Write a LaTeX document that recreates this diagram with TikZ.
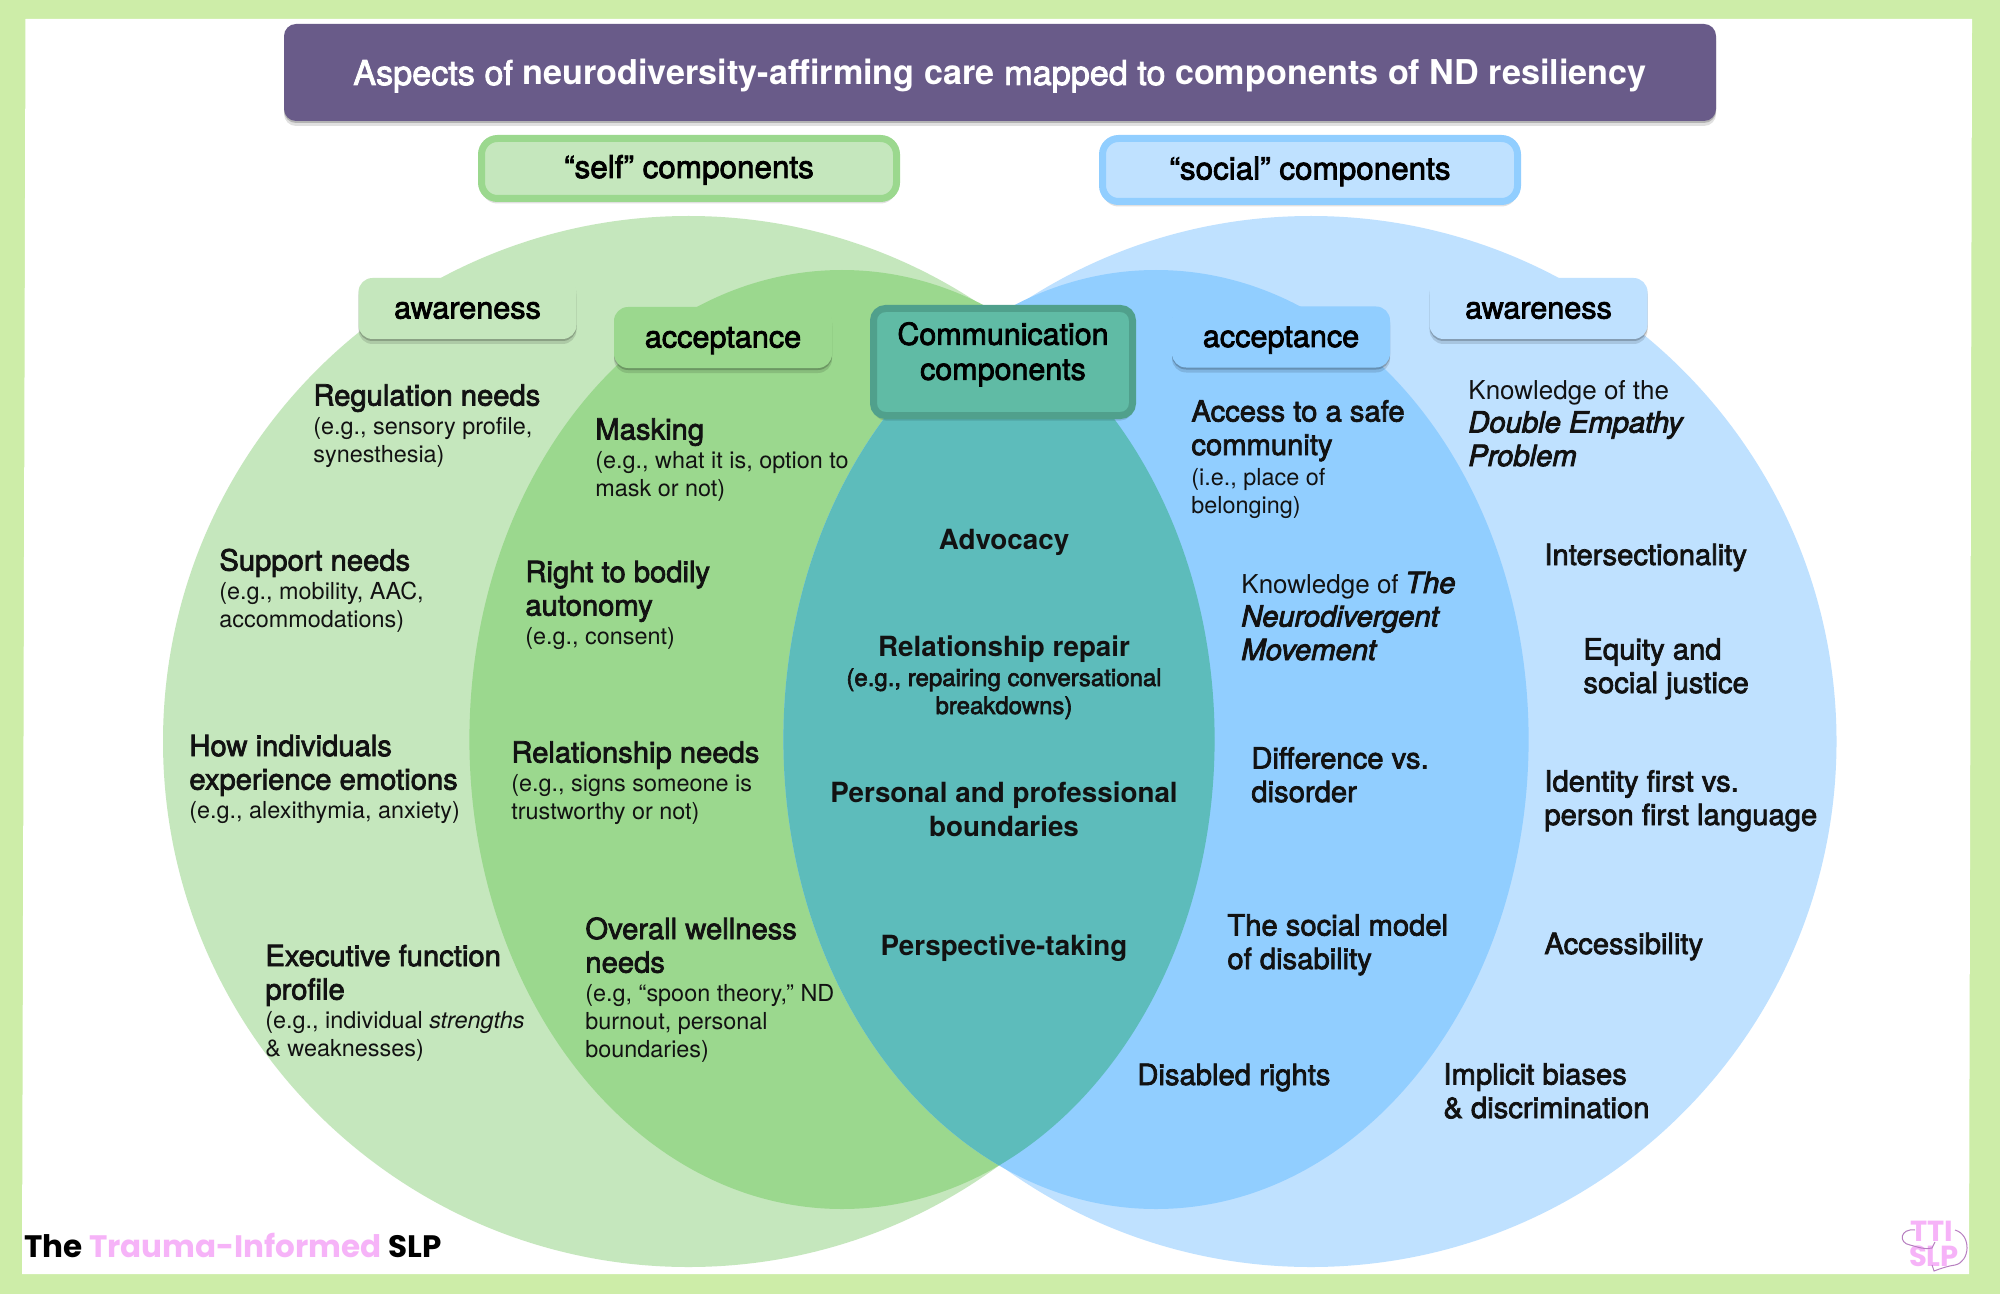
\documentclass[tikz,border=0pt]{standalone}
\usepackage{fontspec}
\setmainfont{TeX Gyre Heros}[BoldFont={TeX Gyre Heros},BoldFeatures={FakeBold=2.5},BoldItalicFont={TeX Gyre Heros Italic},BoldItalicFeatures={FakeBold=3}]
\newfontfamily\strongfont{TeX Gyre Heros Bold}
\newfontfamily\logofont{Poppins}[UprightFont=* Bold]
\usetikzlibrary{shadows}

\definecolor{frameGreen}{HTML}{CDEDA8}
\definecolor{selfOuter}{HTML}{C5E7BD}
\definecolor{selfInner}{HTML}{9BD88E}
\definecolor{socialOuter}{HTML}{BFE1FF}
\definecolor{socialInner}{HTML}{91CEFF}
\definecolor{lensOuter}{HTML}{76C6C8}
\definecolor{lensInner}{HTML}{5DBCBB}
\definecolor{titlePurple}{HTML}{695B89}
\definecolor{commFill}{HTML}{60BBA5}
\definecolor{commEdge}{HTML}{50A08C}
\definecolor{logoPink}{HTML}{F6B3F8}
\definecolor{logoLine}{HTML}{B77FC0}

\newcommand{\headtxt}[1]{{\fontsize{14.6}{14}\selectfont\bfseries #1}}
\newcommand{\strongtxt}[1]{{\fontsize{13.9}{14}\selectfont\strongfont #1}}

\begin{document}
\begin{tikzpicture}[x=0.5pt, y=-0.5pt,
    box/.style={rounded corners=6pt, inner sep=0pt, align=center,
        drop shadow={shadow xshift=0pt, shadow yshift=-2.5pt, fill=black, opacity=0.12},
        drop shadow={shadow xshift=0pt, shadow yshift=-1pt, fill=black, opacity=0.2}},
    titlebox/.style={box, fill=titlePurple, text=white, minimum width=716pt, minimum height=48.5pt, text height=16pt, text depth=3.5pt, font=\fontsize{17.1}{20}\selectfont\bfseries},
    groupbox/.style={box, rounded corners=8pt, line width=3.5pt, minimum width=207.5pt, minimum height=30pt, text height=13pt, text depth=3.5pt, font=\fontsize{15.7}{17}\selectfont\bfseries},
    levelbox/.style={box, rounded corners=7pt, minimum width=109pt, minimum height=30.5pt, text height=13pt, text depth=3pt, font=\fontsize{15.3}{17}\selectfont\bfseries},
    commbox/.style={box, fill=commFill, draw=commEdge, line width=3.5pt, minimum width=129.5pt, minimum height=53.5pt, font=\fontsize{15.2}{17.5}\selectfont\bfseries},
    item/.style={inner sep=0pt, align=left, anchor=base west, font=\fontsize{11.7}{14}\selectfont, text=black!93},
    midtxt/.style={item, align=center, anchor=base}
]
\useasboundingbox (0,0) rectangle (2000,1294);

% Frame
\fill[frameGreen] (0,0) rectangle (2000,1294);
\fill[white] (25.5,19) -- (1972,19) -- (1969,1274) -- (22,1274) -- cycle;

% Circles
\fill[selfOuter] (688.5,741.5) circle[radius=525.5];
\fill[socialOuter] (1311,741.5) circle[radius=525.5];
\fill[selfInner] (842,739.5) ellipse[x radius=372.6, y radius=469.5];
\fill[socialInner] (1156,739.5) ellipse[x radius=372.6, y radius=469.5];
\begin{scope}
    \clip (688.5,741.5) circle[radius=525.5];
    \fill[lensOuter] (1311,741.5) circle[radius=525.5];
\end{scope}
\begin{scope}
    \clip (842,739.5) ellipse[x radius=372.6, y radius=469.5];
    \fill[lensInner] (1156,739.5) ellipse[x radius=372.6, y radius=469.5];
\end{scope}

% Boxes
\node[titlebox] (title) at (1000,72.5) {Aspects of {\strongfont neurodiversity-affirming care} mapped to {\strongfont components of ND resiliency}};
\node[groupbox, fill=selfOuter, draw=selfInner] (selfgroup) at (689,168.5) {“self” components};
\node[groupbox, fill=socialOuter, draw=socialInner, minimum height=31.5pt] (socialgroup) at (1310,170) {“social” components};
\node[levelbox, fill=selfOuter] (selfaware) at (467.5,308.5) {awareness};
\node[levelbox, fill=selfInner] (selfaccept) at (723,337.5) {acceptance};
\node[commbox] (comm) at (1003,362) {Communication\\components\rule[-11pt]{0pt}{0pt}};
\node[levelbox, fill=socialInner] (socialaccept) at (1281,337) {acceptance};
\node[levelbox, fill=socialOuter] (socialaware) at (1538.5,308.5) {awareness};

% Self side
\node[item] (regulation) at (313,462) {\headtxt{Regulation needs}\\[0.2pt] (e.g., sensory profile,\\ synesthesia)};
\node[item] (support) at (219,627) {\headtxt{Support needs}\\[0.2pt] (e.g., mobility, AAC,\\ accommodations)};
\node[item] (emotions) at (189,818) {\headtxt{How individuals}\\[2.75pt] \headtxt{experience emotions}\\[0.2pt] (e.g., alexithymia, anxiety)};
\node[item] (executive) at (265,1056) {\headtxt{Executive function}\\[2.75pt] \headtxt{profile}\\[0.2pt] (e.g., individual \textit{strengths}\\ \& weaknesses)};
\node[item] (masking) at (595,496) {\headtxt{Masking}\\[0.2pt] (e.g., what it is, option to\\ mask or not)};
\node[item] (autonomy) at (525,644) {\headtxt{Right to bodily}\\[2.75pt] \headtxt{autonomy}\\[0.2pt] (e.g., consent)};
\node[item] (relneeds) at (511,819) {\headtxt{Relationship needs}\\[0.2pt] (e.g., signs someone is\\ trustworthy or not)};
\node[item] (wellness) at (585,1057) {\headtxt{Overall wellness}\\[2.75pt] \headtxt{needs}\\[0.2pt] (e.g, “spoon theory,” ND\\ burnout, personal\\ boundaries)};

% Communication
\node[midtxt] (advocacy) at (1004,549) {\strongtxt{Advocacy}};
\node[midtxt, font=\fontsize{12}{14}\selectfont\bfseries] (repair) at (1004,714) {\strongtxt{Relationship repair}\\[1pt] (e.g., repairing conversational\\ breakdowns)};
\node[midtxt] (boundaries) at (1004,836) {\strongtxt{Personal and professional}\\[2.75pt] \strongtxt{boundaries}};
\node[midtxt] (perspective) at (1004,955) {\strongtxt{Perspective-taking}};

% Social side
\node[item] (community) at (1191,513) {\headtxt{Access to a safe}\\[2.75pt] \headtxt{community}\\[1pt] (i.e., place of\\ belonging)};
\node[item] (empathy) at (1468,466) {{\fontsize{13}{14}\selectfont Knowledge of the}\\[2.75pt] \headtxt{\itshape Double Empathy}\\[2.75pt] \headtxt{\itshape Problem}};
\node[item] (movement) at (1241,660) {{\fontsize{13}{14}\selectfont Knowledge of} \headtxt{\itshape The}\\[2.75pt] \headtxt{\itshape Neurodivergent}\\[2.75pt] \headtxt{\itshape Movement}};
\foreach \nm/\xx/\yy/\first/\second in {
    difference/1251/802/Difference vs./disorder,
    socialmodel/1227/969/The social model/of disability,
    justice/1583/693/Equity and/social justice,
    identity/1544/825/Identity first vs./person first language,
    biases/1443/1118/Implicit biases/\& discrimination} {
    \node[item] (\nm) at (\xx,\yy) {\headtxt{\first}\\[2.75pt] \headtxt{\second}};
}
\foreach \nm/\xx/\yy/\txt in {rights/1137/1085/Disabled rights, intersect/1544/565/Intersectionality, access/1544/954/Accessibility} {
    \node[item] (\nm) at (\xx,\yy) {\headtxt{\txt}};
}

% Footer
\node[item, font=\fontsize{15.5}{18}\selectfont\logofont, text=black] (brand) at (24,1257) {The \textcolor{logoPink}{Trauma-Informed} SLP};
\node[item, font=\fontsize{14.5}{14}\selectfont\logofont, text=logoPink, anchor=base] (tti) at (1932,1241) {TTI};
\node[item, font=\fontsize{14.5}{14}\selectfont\logofont, text=logoPink, anchor=base] (slp) at (1934,1266) {SLP};
\draw[logoLine, line width=0.5pt] (1915,1230) .. controls (1900,1228) and (1898,1243) .. (1910,1245) .. controls (1918,1247) and (1925,1250) .. (1932,1248) -- (1935,1242);
\draw[logoLine, line width=0.5pt] (1955,1230) .. controls (1972,1235) and (1970,1262) .. (1955,1265) .. controls (1948,1266) and (1942,1268) .. (1934,1271) -- (1932,1265);

\end{tikzpicture}
\end{document}
